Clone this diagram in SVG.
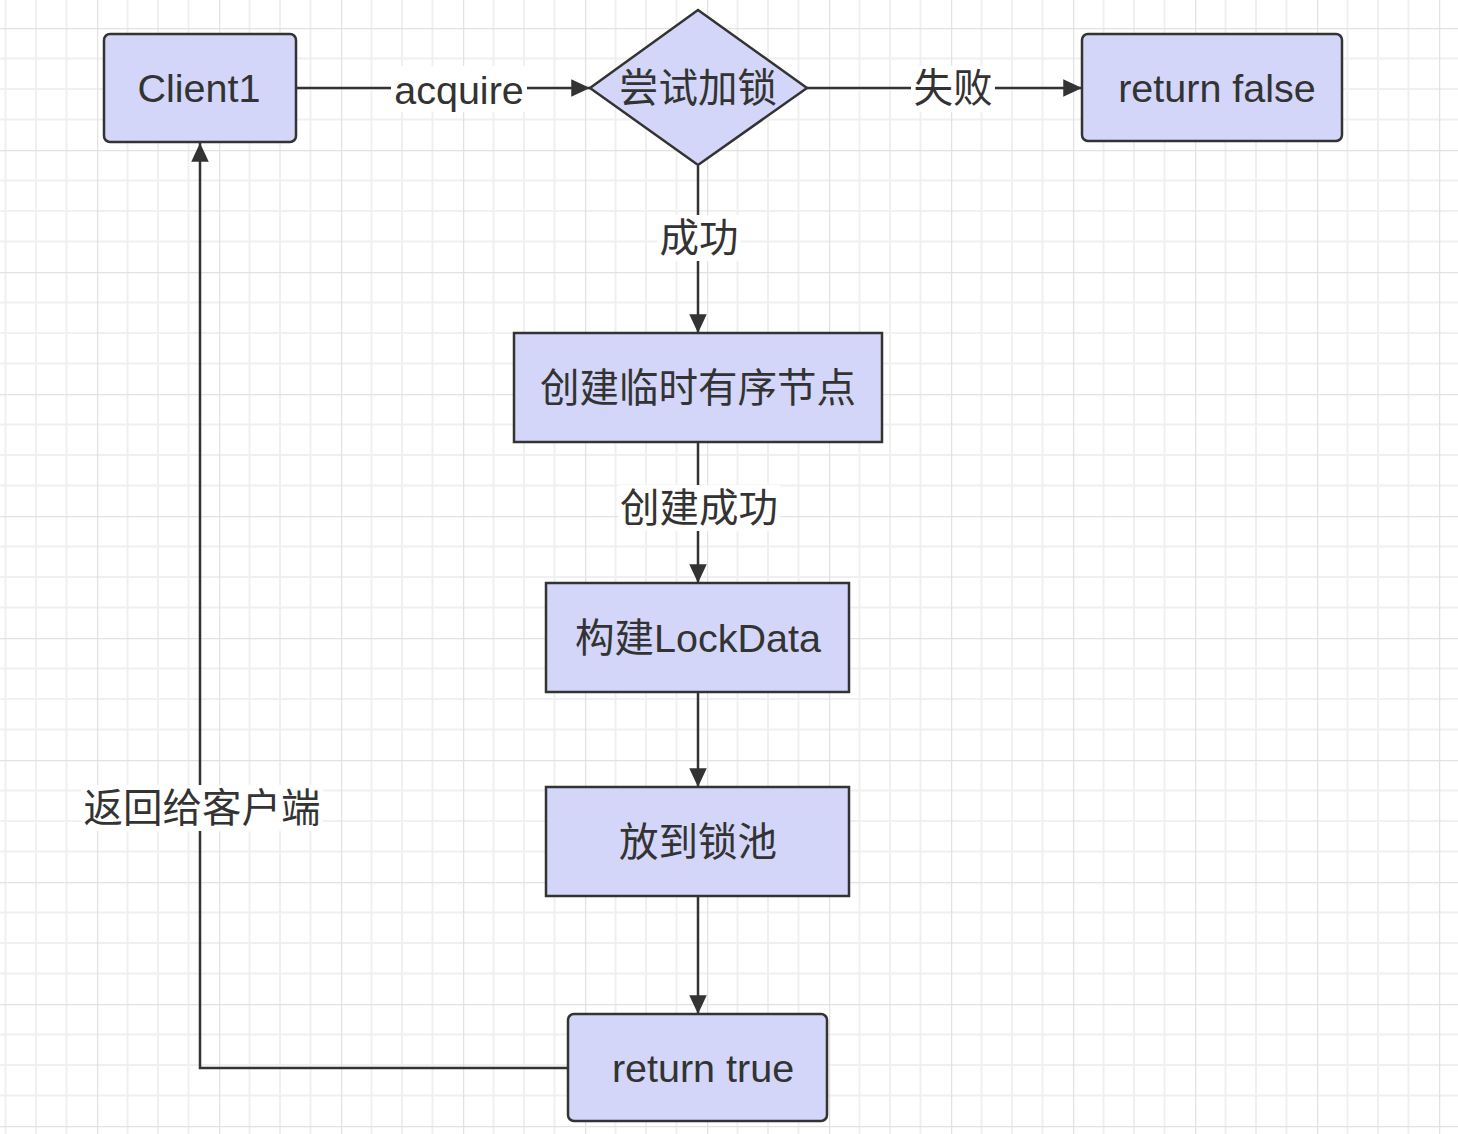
<svg xmlns="http://www.w3.org/2000/svg" width="1458" height="1134" viewBox="0 0 1458 1134">
<defs>
<pattern id="grid" x="97" y="28" width="122" height="122" patternUnits="userSpaceOnUse">
<path d="M30.5 0V122M61 0V122M91.5 0V122M0 30.5H122M0 61H122M0 91.5H122" stroke="#f0f0f0" stroke-width="2" fill="none"/>
<path d="M0 0V122M0 0H122" stroke="#e2e2e2" stroke-width="2.5" fill="none"/>
</pattern>
<marker id="arr" viewBox="0 0 10 10" refX="10" refY="5" markerWidth="7.5" markerHeight="7" markerUnits="strokeWidth" orient="auto" preserveAspectRatio="none">
<path d="M0 0L10 5L0 10z" fill="#333"/>
</marker>
</defs>
<style>
.node{fill:#d3d6f8;stroke:#333;stroke-width:2.5}
.t{font-family:"Liberation Sans","Noto Sans CJK SC",sans-serif;font-size:39.5px;fill:#333;text-anchor:middle;dominant-baseline:central}
.e{fill:none;stroke:#333;stroke-width:2.5;marker-end:url(#arr)}
.lb{fill:#fff}
</style>
<rect width="1458" height="1134" fill="#fff"/>
<rect width="1458" height="1134" fill="url(#grid)"/>
<g id="connectors">
<path class="e" d="M297 88H590"/>
<path class="e" d="M807 88H1082"/>
<path class="e" d="M698 166V333"/>
<path class="e" d="M698 443V583"/>
<path class="e" d="M698 693V787"/>
<path class="e" d="M698 897V1014"/>
<path class="e" d="M568 1068H200V143"/>
<rect class="lb" x="391" y="66" width="136" height="46"/>
<text class="t" x="459" y="90">acquire</text>
<rect class="lb" x="911" y="66" width="84" height="46"/>
<text class="t" x="953" y="88">失败</text>
<rect class="lb" x="657" y="215" width="84" height="46"/>
<text class="t" x="699" y="238">成功</text>
<rect class="lb" x="618" y="485" width="162" height="46"/>
<text class="t" x="699" y="508">创建成功</text>
<rect class="lb" x="81" y="785" width="242" height="46"/>
<text class="t" x="202" y="808">返回给客户端</text>
</g>
<g id="client1">
<rect class="node" x="104" y="34" width="192" height="108" rx="6"/>
<text class="t" x="199" y="88">Client1</text>
</g>
<g id="try-lock">
<polygon class="node" points="698,10 807,88 698,165 590,88"/>
<text class="t" x="698" y="88">尝试加锁</text>
</g>
<g id="return-false">
<rect class="node" x="1082" y="34" width="260" height="107" rx="6"/>
<text class="t" x="1217" y="88">return false</text>
</g>
<g id="create-node">
<rect class="node" x="514" y="333" width="368" height="109"/>
<text class="t" x="698" y="388">创建临时有序节点</text>
</g>
<g id="build-lockdata">
<rect class="node" x="546" y="583" width="303" height="109"/>
<text class="t" x="698" y="638">构建LockData</text>
</g>
<g id="put-pool">
<rect class="node" x="546" y="787" width="303" height="109"/>
<text class="t" x="698" y="842">放到锁池</text>
</g>
<g id="return-true">
<rect class="node" x="568" y="1014" width="259" height="107" rx="6"/>
<text class="t" x="703" y="1068">return true</text>
</g>
</svg>
